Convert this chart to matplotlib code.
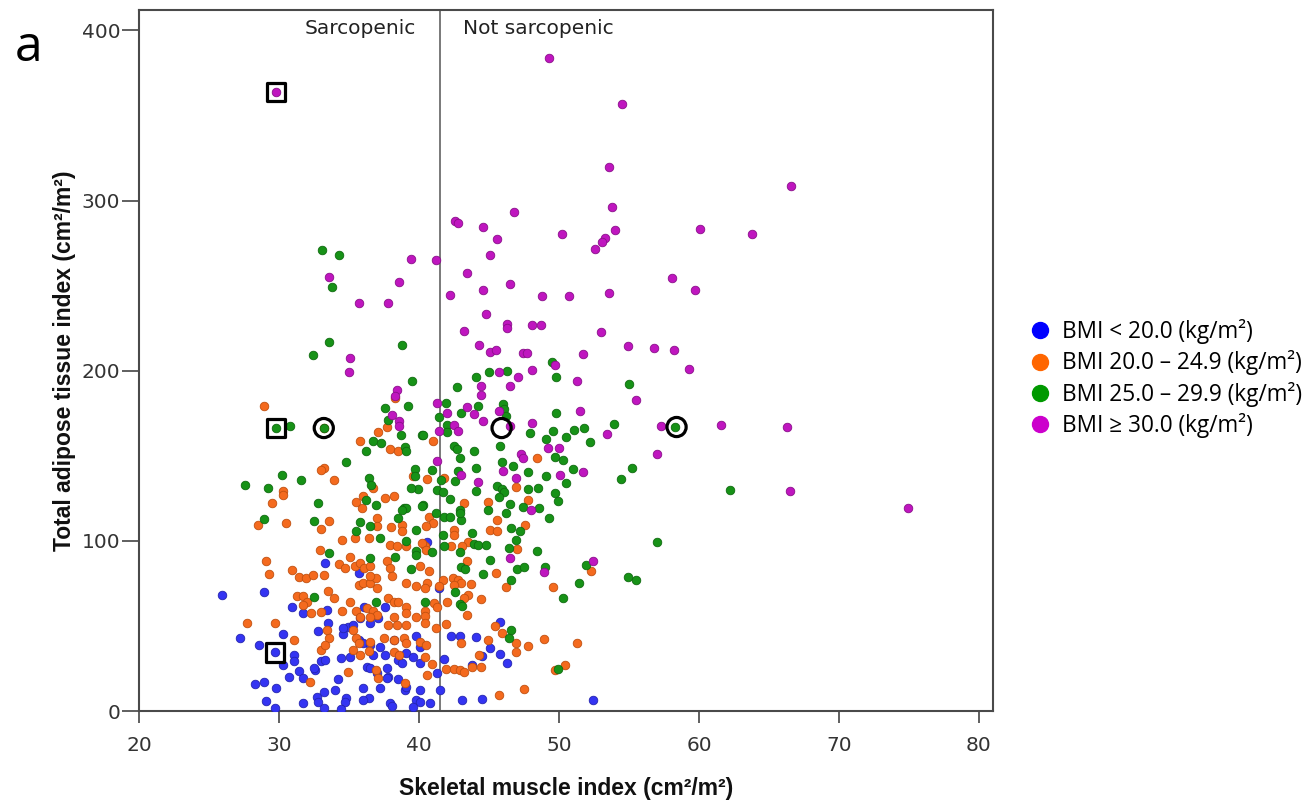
import matplotlib
matplotlib.use('Agg')
import matplotlib.pyplot as plt
from matplotlib.lines import Line2D

# BMI < 20.0
smi_under = [40.6, 41.4, 45.8, 42.3, 42.9, 44.1, 45.1, 45.8, 46.3, 44.5, 41.8, 43.8, 41.3, 41.5,
             40.8, 43.1, 44.5, 52.4,
             25.9, 28.9, 30.9, 31.7, 33.4, 33.3, 35.7, 27.2, 28.6, 30.3, 29.7, 31.1, 31.1, 30.3,
             31.4, 30.7, 28.3, 28.9, 29.8, 29.1, 29.7, 31.7, 32.7, 32.8, 33.2, 32.6, 33.0, 33.3,
             34.4, 35.1, 34.2, 34.0, 34.8, 34.7, 34.4, 32.8, 33.5, 34.6, 34.9, 34.6, 35.3, 35.7,
             36.0, 36.7, 36.5, 37.2, 37.6, 37.7, 37.8, 36.3, 36.5, 37.0, 38.2, 38.5, 38.8, 39.1,
             39.6, 40.1, 39.8, 40.1, 36.1, 36.5, 37.1, 37.6, 35.8, 36.0, 36.4, 36.0, 37.2, 37.7,
             38.5, 39.0, 39.1, 40.1, 39.8, 40.1, 39.6, 37.9, 38.1, 31.7, 32.5, 33.2]
tat_under = [99.6, 72.2, 52.6, 44.2, 43.8, 43.2, 37.3, 33.6, 28.5, 32.4, 30.6, 27.1, 22.2, 12.4,
             4.9, 6.5, 6.9, 6.5,
             68.3, 70.2, 61.4, 57.5, 59.4, 86.9, 81.0, 42.8, 38.9, 45.3, 34.4, 33.0, 29.1, 27.1,
             23.8, 19.8, 15.9, 17.3, 13.8, 6.1, 1.6, 4.5, 8.5, 5.5, 1.6, 24.2, 29.1, 30.0,
             31.4, 32.0, 18.9, 12.4, 7.5, 5.1, 1.0, 47.1, 51.6, 45.3, 49.6, 48.7, 50.6, 41.8,
             39.8, 33.0, 38.9, 37.9, 33.0, 25.1, 20.2, 26.1, 25.1, 22.2, 41.8, 30.1, 28.1, 33.9,
             32.0, 37.9, 43.8, 28.1, 61.4, 51.6, 54.5, 61.4, 54.5, 13.4, 7.5, 6.5, 13.4, 19.3,
             18.7, 12.4, 14.3, 12.4, 6.5, 5.5, 2.6, 4.5, 3.0, 19.3, 25.1, 11.0]

# BMI 20.0 - 24.9
smi_normal = [40.6, 41.0, 48.4, 41.8, 38.3, 28.9, 37.7, 33.2, 37.1, 35.8, 37.9, 38.5, 33.2, 33.0,
              33.9, 39.6, 46.9, 43.2, 44.9, 47.8, 40.7, 41.0, 42.5, 42.5, 45.6, 45.1, 45.6, 47.6,
              43.5, 43.1, 40.4, 42.3, 47.0, 43.4, 40.7, 40.1, 45.5, 52.3, 46.2, 49.6, 42.4, 42.8,
              43.0, 42.5, 41.7, 41.4, 40.6, 40.4, 43.7, 43.5, 43.2, 44.4, 42.0, 41.1, 41.3, 43.4,
              40.4, 40.4, 41.2, 41.9, 45.4, 45.9, 46.9, 47.8, 48.9, 51.3, 43.0, 44.9, 46.9, 44.3,
              40.9, 40.6, 41.9, 42.5, 42.9, 43.2, 43.8, 44.4, 49.7, 50.4, 47.5, 45.7,
              30.3, 30.3, 29.5, 30.5, 28.5, 33.0, 33.6, 34.5, 35.9, 36.0, 35.5, 36.7, 37.6, 38.2,
              37.0, 37.0, 38.0, 38.8, 38.8, 40.5, 35.4, 36.4, 37.9, 38.4, 39.1, 40.2, 40.5, 32.9,
              29.1, 29.3, 30.9, 31.4, 31.9, 32.4, 33.2, 34.3, 34.7, 35.1, 35.4, 35.8, 36.1, 36.5,
              37.7, 37.9, 35.7, 36.0, 36.5, 36.9, 37.0, 36.5, 38.1, 39.1, 39.8, 33.5, 33.9, 31.3,
              31.7, 32.0, 32.3, 33.0, 31.7, 34.5, 35.1, 35.5, 35.8, 36.3, 36.7, 37.0, 36.5, 37.8,
              38.2, 38.5, 39.1, 39.1, 38.2, 37.8, 38.4, 39.1, 39.8, 40.4, 27.7, 29.7, 31.1, 33.4,
              33.6, 33.0, 33.3, 35.3, 35.5, 35.7, 35.3, 35.8, 36.5, 36.4, 37.5, 38.2, 38.9, 39.1,
              38.2, 38.6, 40.1, 40.5, 40.4, 34.9, 36.9, 37.1, 39.0, 32.2]
tat_normal = [136.3, 158.8, 148.5, 137.1, 184.0, 179.0, 166.9, 166.3, 163.8, 158.5, 154.1, 152.6, 142.8, 141.4,
              135.9, 137.9, 131.6, 122.2, 123.0, 123.8, 114.3, 110.4, 106.5, 103.6, 112.4, 106.5, 105.5, 109.4,
              99.6, 97.1, 96.7, 96.7, 95.5, 88.3, 82.0, 85.0, 81.0, 82.0, 72.8, 72.8, 78.1, 77.1,
              75.1, 74.2, 77.1, 73.2, 75.1, 72.2, 74.7, 68.3, 66.3, 65.7, 64.3, 63.4, 61.4, 56.5,
              59.0, 56.0, 48.7, 51.0, 50.0, 45.7, 40.2, 38.3, 42.4, 40.2, 40.2, 41.8, 34.9, 33.0,
              27.5, 21.2, 24.5, 24.5, 24.2, 23.2, 26.1, 26.1, 24.2, 27.1, 12.8, 9.6,
              129.4, 126.7, 122.2, 110.4, 109.1, 107.1, 111.4, 100.6, 119.6, 126.1, 122.6, 131.0, 125.1, 126.1,
              113.4, 108.5, 108.1, 109.5, 105.5, 108.5, 101.6, 101.6, 97.7, 96.7, 96.7, 98.7, 94.7, 94.7,
              87.9, 80.4, 83.0, 78.7, 78.1, 80.0, 80.0, 86.5, 84.0, 90.4, 85.0, 86.9, 84.0, 85.0,
              87.9, 84.0, 74.2, 75.1, 75.1, 78.1, 72.2, 79.1, 79.4, 75.1, 73.2, 70.8, 66.3, 67.7,
              67.3, 64.3, 57.5, 57.9, 62.4, 58.9, 63.8, 58.5, 55.5, 60.4, 58.5, 56.5, 55.5, 66.3,
              64.3, 64.3, 61.4, 57.5, 55.5, 50.6, 50.6, 50.6, 55.5, 51.6, 52.0, 52.0, 41.8, 47.7,
              42.8, 35.9, 38.9, 47.7, 42.8, 39.8, 35.9, 33.0, 40.8, 35.0, 42.8, 41.8, 42.8, 39.8,
              34.9, 33.0, 40.8, 38.9, 32.0, 23.2, 24.2, 19.2, 16.3, 17.3]

# BMI 25.0 - 29.9
smi_over = [33.1, 34.3, 33.8, 33.6, 32.4, 38.8, 39.5, 37.6, 39.2, 37.8, 29.8, 30.8, 33.2, 38.7,
            40.2, 36.7, 37.3, 39.0, 39.1, 36.2, 34.8, 30.2, 31.6, 36.4, 39.7, 58.3, 62.2, 57.0,
            49.5, 46.3, 45.0, 44.1, 49.8, 42.7, 55.0, 41.9, 44.2, 46.0, 46.1, 46.2, 43.0, 41.4,
            49.8, 53.9, 42.0, 42.0, 40.3, 49.6, 51.1, 51.8, 47.9, 49.1, 50.5, 52.2, 42.5, 42.7,
            43.9, 45.8, 42.9, 45.9, 49.7, 50.3, 46.7, 40.9, 42.8, 44.1, 47.8, 51.0, 55.2, 49.1,
            54.4, 50.5, 44.1, 42.6, 41.6, 41.3, 41.7, 45.6, 45.9, 46.1, 45.7, 47.8, 48.5, 49.7,
            49.9, 42.2, 44.9, 46.5, 47.4, 48.6, 46.2, 49.3, 40.3, 41.8, 42.2, 42.9, 43.0, 42.9,
            41.2, 43.8, 46.6, 47.2, 46.9, 43.9, 44.2, 44.8, 42.9, 41.7, 41.8, 40.9, 46.4, 48.4,
            45.1, 43.0, 43.3, 47.0, 47.5, 44.6, 49.0, 51.9, 54.9, 55.5, 46.6, 51.4, 50.3, 42.6,
            40.4, 42.9, 43.1, 46.6, 46.4, 49.9,
            27.6, 29.2, 32.8, 32.5, 28.9, 36.6, 36.2, 36.9, 35.8, 35.5, 36.5, 37.2, 38.5, 38.9,
            39.1, 38.8, 39.7, 39.9, 39.4, 40.2, 39.8, 39.1, 39.8, 39.8, 36.5, 38.3, 39.4, 33.6,
            32.5, 36.9]
tat_over = [270.8, 268.0, 249.0, 216.7, 209.0, 214.9, 194.1, 178.1, 179.0, 171.2, 166.3, 167.3, 166.3, 162.2,
            162.2, 158.5, 157.5, 155.1, 153.0, 152.8, 146.5, 138.8, 135.5, 136.7, 142.2, 166.9, 129.6, 99.2,
            205.0, 199.8, 199.2, 196.3, 196.3, 190.2, 192.2, 181.0, 179.0, 180.6, 177.5, 173.2, 175.1, 172.6,
            175.1, 168.6, 168.3, 163.8, 162.4, 164.7, 165.3, 166.3, 163.4, 160.0, 161.0, 157.9, 155.9, 154.1,
            152.9, 155.5, 148.5, 146.5, 149.2, 147.7, 143.7, 141.8, 141.0, 142.6, 140.2, 142.2, 142.8, 138.3,
            136.3, 134.0, 129.4, 135.0, 135.9, 130.0, 129.0, 132.0, 130.4, 129.0, 125.7, 130.6, 131.0, 128.0,
            123.6, 124.5, 118.3, 121.8, 119.8, 119.6, 116.3, 113.4, 121.0, 114.3, 114.3, 117.9, 112.4, 116.3,
            116.3, 104.9, 107.5, 105.9, 100.6, 98.3, 97.7, 97.7, 93.2, 103.6, 96.7, 93.2, 95.7, 94.0,
            88.9, 84.5, 83.6, 83.4, 84.5, 80.6, 84.5, 85.9, 79.0, 77.1, 77.1, 75.1, 66.3, 70.2,
            64.3, 63.0, 61.8, 47.7, 42.8, 24.5,
            133.0, 131.0, 122.2, 111.8, 113.0, 133.0, 124.2, 121.2, 110.8, 105.9, 108.5, 101.6, 113.4, 119.3,
            119.3, 118.3, 137.9, 130.4, 131.0, 120.2, 106.5, 100.0, 93.8, 91.8, 89.8, 90.4, 83.4, 92.8,
            66.9, 64.3]

# BMI >= 30.0
smi_obese = [29.8, 33.55, 39.4, 41.2, 38.6, 42.6, 42.8, 44.6, 45.6, 45.1, 43.4, 44.6, 42.2, 49.3,
             54.5, 53.6, 53.8, 54.0, 53.3, 53.1, 52.6, 60.1, 63.8, 66.6, 58.1, 59.7, 53.6, 50.7,
             48.8, 46.5, 46.8, 50.2, 56.8, 58.2, 59.3, 57.3, 61.6, 66.3, 57.0, 66.5, 74.9, 35.7,
             37.8, 35.1, 35.0, 38.4, 38.3, 38.1, 38.6, 38.6, 44.8, 46.3, 46.3, 48.1, 48.7, 43.2,
             53.0, 44.3, 45.1, 45.5, 47.4, 47.7, 51.7, 54.9, 49.7, 45.7, 47.1, 48.1, 51.3, 44.4,
             44.4, 46.5, 55.5, 41.3, 43.4, 45.7, 42.0, 43.9, 44.6, 51.5, 48.1, 42.5, 46.5, 41.4,
             42.8, 53.4, 49.2, 50.0, 47.3, 47.4, 41.3, 46.0, 51.7, 50.1, 46.9, 43.0, 44.2, 48.0,
             46.5, 48.9, 52.4]
tat_obese = [363.7, 254.9, 265.9, 264.9, 252.1, 288.0, 287.0, 284.3, 277.3, 267.8, 257.4, 247.6, 244.5, 384.0,
             356.7, 319.6, 296.3, 282.5, 277.8, 275.6, 271.4, 283.3, 280.4, 308.4, 254.3, 247.4, 245.7, 244.0,
             243.9, 251.2, 293.1, 280.6, 213.1, 212.4, 201.0, 167.3, 168.0, 166.9, 151.2, 129.2, 119.2, 239.8,
             239.8, 207.3, 199.4, 188.8, 184.9, 174.1, 170.2, 167.3, 233.4, 227.7, 225.1, 226.9, 226.9, 223.2,
             222.8, 215.3, 211.0, 212.2, 210.4, 210.4, 209.8, 214.3, 203.6, 199.2, 196.5, 200.2, 193.9, 190.8,
             185.7, 191.0, 183.0, 181.0, 178.7, 176.1, 175.1, 174.7, 170.6, 176.3, 169.2, 168.3, 167.7, 164.3,
             164.3, 162.8, 154.3, 154.3, 151.2, 148.6, 146.9, 140.8, 140.6, 138.6, 136.7, 138.8, 134.3, 118.3,
             90.2, 81.6, 87.9]

# highlighted patients
square_smi = [29.8, 29.8, 29.7]
square_tat = [363.7, 166.3, 34.4]
circle_smi = [33.2, 45.9, 58.4]
circle_tat = [166.3, 166.3, 166.9]

labels = ['BMI < 20.0 (kg/m²)', 'BMI 20.0 – 24.9 (kg/m²)',
          'BMI 25.0 – 29.9 (kg/m²)', 'BMI ≥ 30.0 (kg/m²)']
legend_colors = ['#0000ff', '#ff6600', '#009900', '#cc00cc']
dot_colors = ['#3434f2', '#f46a1e', '#179217', '#bf16bf']
edge_colors = ['#2424b0', '#c05010', '#0f6a0f', '#8a0f8a']
cutoff = 41.5

fig = plt.figure(figsize=(13.15, 8.11), dpi=100)
ax = fig.add_axes([0.1057, 0.1233, 0.6494, 0.8644])

groups = [(smi_under, tat_under), (smi_normal, tat_normal),
          (smi_over, tat_over), (smi_obese, tat_obese)]
for (xs, ys), c, ec in zip(groups, dot_colors, edge_colors):
    ax.scatter(xs, ys, s=38, color=c, edgecolors=ec, linewidths=0.6, zorder=3)

ax.scatter(square_smi, square_tat, marker='s', s=170, facecolors='none',
           edgecolors='black', linewidths=2.3, zorder=4)
ax.scatter(circle_smi, circle_tat, marker='o', s=190, facecolors='none',
           edgecolors='black', linewidths=2.3, zorder=4)

ax.axvline(cutoff, color='#555555', lw=1.1, zorder=2)
ax.text(39.79, 398, 'Sarcopenic', ha='right', va='baseline', fontsize=14.5, color='#222222')
ax.text(43.14, 398, 'Not sarcopenic', ha='left', va='baseline', fontsize=14.5, color='#222222')

ax.set_xlim(20, 81)
ax.set_ylim(0, 412)
ax.set_xticks([20, 30, 40, 50, 60, 70, 80])
ax.set_yticks([0, 100, 200, 300, 400])
ax.tick_params(axis='x', length=8.7, width=1.2, pad=9, labelsize=14.5,
               colors='#444444', labelcolor='#333333')
ax.tick_params(axis='y', length=12, width=1.2, pad=1.5, labelsize=14.5,
               colors='#444444', labelcolor='#333333')
for sp in ax.spines.values():
    sp.set_color('#4a4a4a')
    sp.set_linewidth(1.5)

lab_font = dict(family=['Liberation Sans', 'DejaVu Sans'], weight='bold', size=16.5, color='#111111')
ax.set_xlabel('Skeletal muscle index (cm²/m²)', labelpad=16, **lab_font)
ax.set_ylabel('Total adipose tissue index (cm²/m²)', labelpad=4, **lab_font)

fig.text(0.0114, 0.9248, 'a', fontsize=36, family=['Open Sans', 'DejaVu Sans'],
         ha='left', va='baseline', color='black')

handles = [Line2D([], [], ls='none', marker='o', markersize=11.5, color=c) for c in legend_colors]
fig.legend(handles, labels, loc='upper left', bbox_to_anchor=(0.7754, 0.6205),
           frameon=False, borderpad=0, handlelength=0.8, handletextpad=0.55,
           labelspacing=0.28, prop={'family': ['Open Sans', 'DejaVu Sans'], 'size': 16.3})

fig.savefig('out.png', dpi=100, facecolor='white')
